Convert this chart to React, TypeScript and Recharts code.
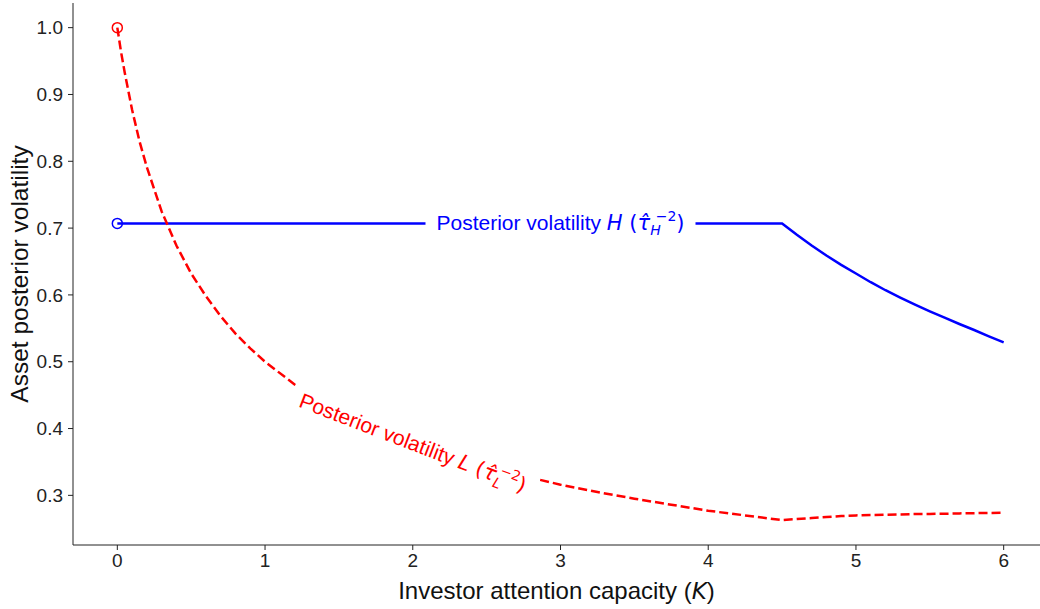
import React from 'react';
import { LineChart, Line, XAxis, YAxis, ReferenceDot } from 'recharts';

// values
const K = [0, 0.025, 0.05, 0.1, 0.15, 0.2, 0.3, 0.4, 0.5, 0.6, 0.7, 0.8, 0.9, 1.0, 1.2, 1.4, 1.6, 1.8, 2.0, 2.25, 2.5, 2.75, 3.0, 3.25, 3.5, 3.75, 4.0, 4.25, 4.5,
  4.6, 4.7, 4.8, 4.9, 5.0, 5.1, 5.2, 5.3, 5.4, 5.5, 5.6, 5.7, 5.8, 5.9, 6.0];
const volH = [0.707, 0.707, 0.707, 0.707, 0.707, 0.707, 0.707, 0.707, 0.707, 0.707, 0.707, 0.707, 0.707, 0.707, 0.707, 0.707, 0.707, 0.707, 0.707, 0.707, 0.707, 0.707, 0.707, 0.707, 0.707, 0.707, 0.707, 0.707, 0.707,
  0.69, 0.674, 0.659, 0.645, 0.632, 0.619, 0.607, 0.596, 0.5855, 0.5755, 0.566, 0.5565, 0.5475, 0.538, 0.529];
const volL = [1.0, 0.964, 0.933, 0.877, 0.83, 0.791, 0.725, 0.674, 0.632, 0.598, 0.568, 0.542, 0.52, 0.5, 0.466, 0.439, 0.415, 0.395, 0.378, 0.359, 0.343, 0.329, 0.316, 0.305, 0.295, 0.286, 0.277, 0.27, 0.263,
  0.2645, 0.266, 0.2675, 0.269, 0.27, 0.2705, 0.271, 0.2715, 0.272, 0.2722, 0.2725, 0.273, 0.2733, 0.2737, 0.274];
const xTicks = [0, 1, 2, 3, 4, 5, 6];
const yTicks = [0.3, 0.4, 0.5, 0.6, 0.7, 0.8, 0.9, 1.0];

const data = K.map((k, i) => ({ k, h: volH[i], l: volL[i] }));

const BLUE = '#0000ff';
const RED = '#ff0000';
const TEXT = 'Liberation Sans, Arial, sans-serif';
const MATH = 'DejaVu Sans, sans-serif';

const XLabel = (props: any) => {
  const { x, y, width } = props.viewBox;
  return (
    <text x={x + width / 2 - 4} y={y + 54} textAnchor="middle" fontSize={24} fontFamily={TEXT} fill="#111">
      Investor attention capacity (<tspan fontFamily={MATH} fontStyle="italic" fontSize={23}>K</tspan>)
    </text>
  );
};

const YLabel = (props: any) => {
  const { y, height } = props.viewBox;
  const cy = y + height / 2;
  return (
    <text x={28} y={cy} transform={`rotate(-90 28 ${cy})`} textAnchor="middle" fontSize={24.5} fontFamily={TEXT} fill="#111">
      Asset posterior volatility
    </text>
  );
};

// inline line label with a white box that cuts the line, like labelLines
const lineLabel = (name: string, color: string, angle: number, boxW: number) => (props: any) => {
  const { cx, cy } = props;
  return (
    <g transform={`rotate(${angle} ${cx} ${cy})`}>
      <rect x={cx - boxW / 2} y={cy - 15} width={boxW} height={30} fill="#fff" />
      <text x={cx} y={cy + 7} textAnchor="middle" fontSize={21} fontFamily={TEXT} fill={color}>
        Posterior volatility <tspan fontFamily={MATH} fontStyle="italic">{name}</tspan>
        <tspan fontFamily={MATH}> (</tspan>
        <tspan fontFamily={MATH} fontStyle="italic">{'\u03C4\u0302'}</tspan>
        <tspan fontFamily={MATH} fontStyle="italic" fontSize={14} dy={5}>{name}</tspan>
        <tspan fontFamily={MATH} fontSize={14} dy={-14} dx={-5}>{'\u22122'}</tspan>
        <tspan fontFamily={MATH} dy={9}>)</tspan>
      </text>
    </g>
  );
};

export default function App() {
  const iH = K.indexOf(3.0);
  const iL = K.indexOf(2.0);
  return (
    <div style={{ position: 'absolute', left: 0, top: 0, width: 1040, height: 609, overflow: 'hidden', background: '#fff' }}>
      <LineChart width={1048} height={609} data={data} margin={{ top: 3, right: 0, bottom: 0, left: 0 }}>
        <XAxis
          type="number"
          dataKey="k"
          domain={[-0.3, 6.3]}
          ticks={xTicks}
          allowDataOverflow
          height={64}
          tickSize={5}
          tickMargin={4}
          stroke="#222"
          tick={{ fontSize: 19, fill: '#222', fontFamily: TEXT }}
          label={<XLabel />}
        />
        <YAxis
          type="number"
          domain={[0.2257, 1.0369]}
          ticks={yTicks}
          allowDataOverflow
          width={73}
          tickSize={5}
          tickMargin={5}
          stroke="#222"
          tickFormatter={(v: number) => v.toFixed(1)}
          tick={{ fontSize: 19, fill: '#222', fontFamily: TEXT }}
          label={<YLabel />}
        />
        <Line dataKey="h" type="linear" stroke={BLUE} strokeWidth={2.5} dot={false} activeDot={false} isAnimationActive={false} />
        <Line dataKey="l" type="linear" stroke={RED} strokeWidth={2.5} strokeDasharray="9 4" dot={false} activeDot={false} isAnimationActive={false} />
        <ReferenceDot x={K[0]} y={volH[0]} r={5} fill="none" stroke={BLUE} strokeWidth={1.5} />
        <ReferenceDot x={K[0]} y={volL[0]} r={5} fill="none" stroke={RED} strokeWidth={1.5} />
        <ReferenceDot x={K[iH]} y={volH[iH]} shape={lineLabel('H', BLUE, 0, 270)} />
        <ReferenceDot x={K[iL]} y={volL[iL]} shape={lineLabel('L', RED, 21, 258)} />
      </LineChart>
    </div>
  );
}
